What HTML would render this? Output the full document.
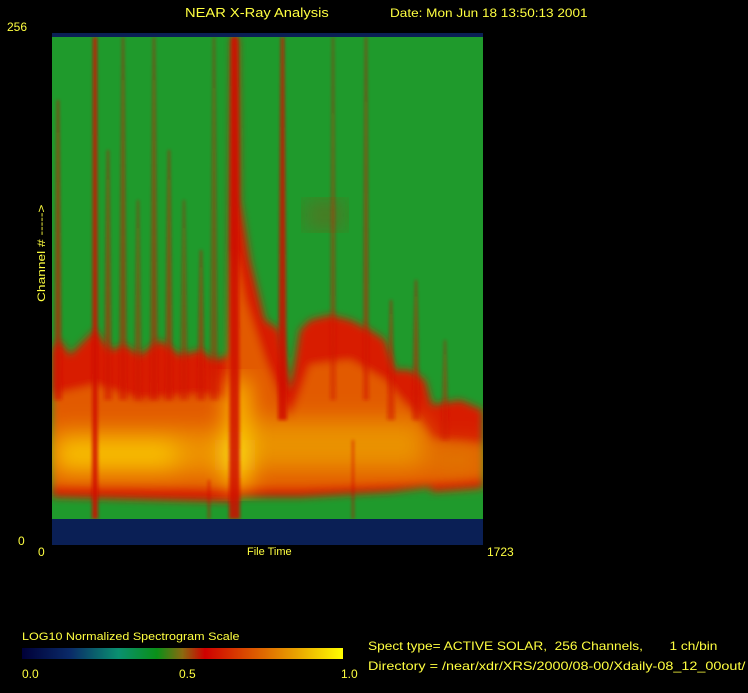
<!DOCTYPE html>
<html><head><style>
html,body{margin:0;padding:0;background:#000;}
body{width:748px;height:693px;overflow:hidden;position:relative;font-family:"Liberation Sans",sans-serif;}
.t{position:absolute;color:#ffff40;font-size:12px;white-space:pre;line-height:1;transform-origin:0 0;}
</style></head><body>
<svg width="748" height="693" style="position:absolute;left:0;top:0">
<defs>
<filter id="b4"><feGaussianBlur stdDeviation="4"/></filter>
<filter id="b8"><feGaussianBlur stdDeviation="12"/></filter>
<filter id="b2"><feGaussianBlur stdDeviation="1.5"/></filter>
<linearGradient id="cb" x1="0" x2="1" y1="0" y2="0">
<stop offset="0" stop-color="#000038"/><stop offset="0.15" stop-color="#0a2a68"/>
<stop offset="0.3" stop-color="#0a9070"/><stop offset="0.42" stop-color="#0a9018"/>
<stop offset="0.5" stop-color="#8a6a10"/><stop offset="0.57" stop-color="#d00000"/>
<stop offset="0.68" stop-color="#d84000"/><stop offset="0.85" stop-color="#e8a000"/>
<stop offset="1" stop-color="#ffff00"/></linearGradient>
<clipPath id="pc"><rect x="52" y="37" width="431" height="482"/></clipPath>
</defs>
<rect x="52" y="33" width="431" height="4" fill="#0a1f55"/>
<rect x="52" y="519" width="431" height="26" fill="#0a1f55"/>
<g clip-path="url(#pc)">
<rect x="52" y="37" width="431" height="482" fill="#1f9a2c"/>
<g filter="url(#b4)">
<polygon fill="#d81a00" points="52,350 60,340 70,355 80,345 95,330 110,350 125,345 140,355 160,340 180,355 200,350 215,360 228,355 232,37 238,37 240,200 250,260 265,320 280,330 290,390 300,330 310,320 330,315 350,320 370,330 385,340 395,370 410,370 425,380 432,405 460,400 483,410 483,488 432,492 430,487 390,492 300,497 240,497 232,502 52,497"/>
<polygon fill="#e25a00" points="52,395 95,385 140,400 200,395 228,400 234,250 245,300 265,360 290,420 310,365 350,360 385,380 410,410 432,440 483,445 483,478 432,482 390,484 300,488 240,488 52,486"/>
</g>
<g filter="url(#b8)">
<rect x="52" y="430" width="180" height="45" fill="#f0a000" opacity="0.8"/>
<rect x="228" y="380" width="20" height="110" fill="#ffd000"/>
<rect x="250" y="420" width="175" height="50" fill="#eca000" opacity="0.8"/>
<rect x="432" y="445" width="51" height="30" fill="#e08000" opacity="0.7"/>
<rect x="55" y="440" width="120" height="30" fill="#ffe000" opacity="0.6"/>
<rect x="228" y="440" width="14" height="30" fill="#ffff20"/>
</g>
<g fill="#d01000" filter="url(#b2)" opacity="0.85">
<polygon points="93,37 97,37 98,519 92,519"/>
<polygon points="231,37 238,37 240,519 229,519"/>
<polygon points="281,37 284,37 287,420 278,420"/>
<polygon points="57,100 59,100 62,400 54,400" opacity="0.7"/>
<polygon points="107,150 109,150 112,400 104,400" opacity="0.6"/>
<polygon points="122,37 124,37 127,400 119,400" opacity="0.6"/>
<polygon points="137,200 139,200 142,400 134,400" opacity="0.5"/>
<polygon points="153,37 155,37 158,400 150,400" opacity="0.6"/>
<polygon points="168,150 170,150 173,400 165,400" opacity="0.6"/>
<polygon points="183,200 185,200 188,400 180,400" opacity="0.5"/>
<polygon points="200,250 202,250 205,400 197,400" opacity="0.6"/>
<polygon points="213,37 215,37 218,400 210,400" opacity="0.5"/>
<polygon points="332,37 334,37 336,400 330,400" opacity="0.5"/>
<polygon points="365,37 367,37 369,400 363,400" opacity="0.6"/>
<polygon points="390,300 392,300 395,420 387,420" opacity="0.6"/>
<polygon points="415,280 417,280 420,420 412,420" opacity="0.6"/>
<polygon points="444,340 446,340 449,440 441,440" opacity="0.5"/>
<rect x="352" y="440" width="2" height="79" opacity="0.7"/>
<rect x="208" y="480" width="2" height="39" opacity="0.7"/>
</g>
<rect x="305" y="200" width="40" height="30" fill="#b03010" opacity="0.35" filter="url(#b8)"/>
</g>
<rect x="22" y="648" width="321" height="11" fill="url(#cb)"/>
</svg>
<div class="t" style="left:185px;top:6px;font-size:13px;transform:scaleX(1.13)">NEAR X-Ray Analysis</div>
<div class="t" style="left:390px;top:7px;transform:scaleX(1.13)">Date: Mon Jun 18 13:50:13 2001</div>
<div class="t" style="left:7px;top:21px">256</div>
<div class="t" style="left:18px;top:535px">0</div>
<div class="t" style="left:38px;top:546px">0</div>
<div class="t" style="left:247px;top:547px;font-size:11px">File Time</div>
<div class="t" style="left:487px;top:546px">1723</div>
<div class="t" style="left:37px;top:302px;transform:rotate(-90deg) scaleX(1.25);font-size:11px">Channel # -----&gt;</div>
<div class="t" style="left:22px;top:632px;font-size:11px;transform:scaleX(1.14)">LOG10 Normalized Spectrogram Scale</div>
<div class="t" style="left:22px;top:668px">0.0</div>
<div class="t" style="left:179px;top:668px">0.5</div>
<div class="t" style="left:341px;top:668px">1.0</div>
<div class="t" style="left:368px;top:640px;transform:scaleX(1.14)">Spect type= ACTIVE SOLAR,  256 Channels,       1 ch/bin</div>
<div class="t" style="left:368px;top:660px;transform:scaleX(1.2)">Directory = /near/xdr/XRS/2000/08-00/Xdaily-08_12_00out/</div>
</body></html>
